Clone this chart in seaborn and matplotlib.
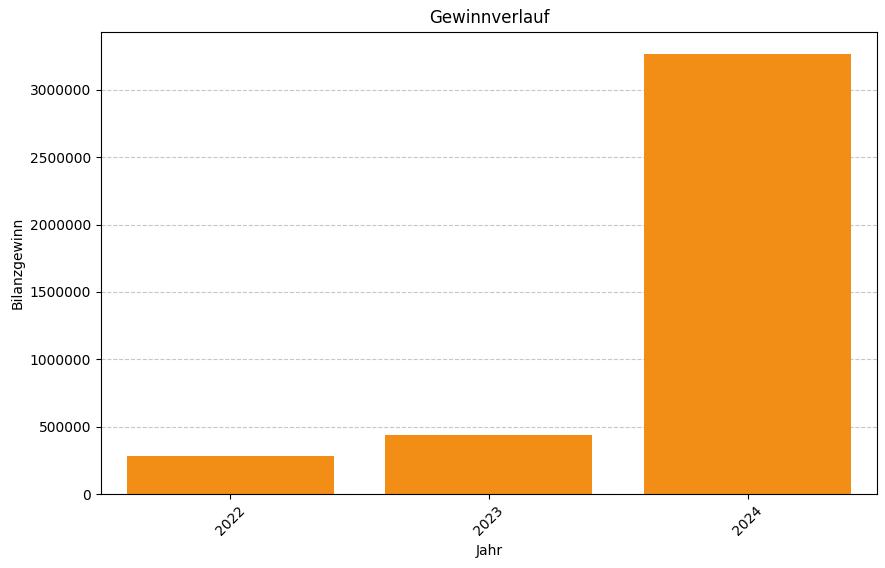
import matplotlib
matplotlib.use("Agg")
import matplotlib.pyplot as plt
import seaborn as sns
import pandas as pd

# Values
jahre = ["2022", "2023", "2024"]
gewinn = [282000, 438000, 3267000]

df = pd.DataFrame({"Jahr": jahre, "Bilanzgewinn": gewinn})

fig, ax = plt.subplots(figsize=(8.85, 5.68), dpi=100)
sns.barplot(data=df, x="Jahr", y="Bilanzgewinn", color="#F28E16", saturation=1, width=0.8, ax=ax)
ax.set_title("Gewinnverlauf")
ax.set_xlabel("Jahr")
ax.set_ylabel("Bilanzgewinn")
ax.ticklabel_format(axis="y", style="plain")
ax.grid(axis="y", linestyle="--", alpha=0.7)
ax.set_axisbelow(True)
plt.xticks(rotation=45)
plt.subplots_adjust(left=0.114, right=0.991, top=0.944, bottom=0.13)
fig.savefig("out.png", dpi=100)
